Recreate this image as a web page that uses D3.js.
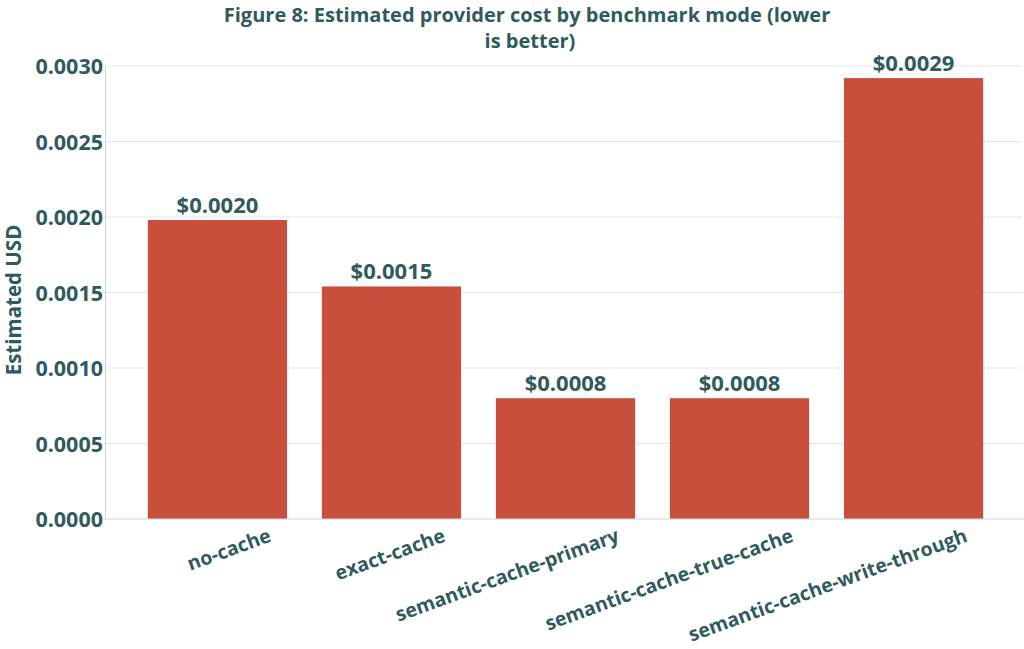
<!DOCTYPE html>
<html>
<head>
<meta charset="utf-8">
<script src="https://cdn.jsdelivr.net/npm/d3@7"></script>
<style>
  body { margin: 0; background: #fff; }
  svg text { font-family: "Open Sans", "Noto Sans", sans-serif; font-weight: 700; fill: #2f5b5d; }
</style>
</head>
<body>
<svg width="1024" height="649"></svg>
<script>
// data
const modes = ["no-cache", "exact-cache", "semantic-cache-primary", "semantic-cache-true-cache", "semantic-cache-write-through"];
const costs = [0.00198, 0.00154, 0.00080, 0.00080, 0.00292];
const costLabels = ["$0.0020", "$0.0015", "$0.0008", "$0.0008", "$0.0029"];
const yTicks = [0, 0.0005, 0.001, 0.0015, 0.002, 0.0025, 0.003];

const svg = d3.select("svg");
const plotLeft = 105, plotRight = 1022, plotTop = 66, plotBottom = 519;

// scales
const x = d3.scaleBand()
  .domain(modes)
  .range([113, 1018])
  .padding(0.2);

const y = d3.scaleLinear()
  .domain([0, 0.003])
  .range([plotBottom, plotTop]);

// grid lines
svg.append("g")
  .selectAll("line")
  .data(yTicks.filter(d => d > 0))
  .enter()
  .append("line")
  .attr("x1", plotLeft)
  .attr("x2", plotRight)
  .attr("y1", d => y(d))
  .attr("y2", d => y(d))
  .attr("stroke", "#e3e6e6")
  .attr("stroke-width", 1);

// bars
svg.selectAll("rect")
  .data(modes)
  .enter()
  .append("rect")
  .attr("x", d => x(d))
  .attr("y", (d, i) => y(costs[i]))
  .attr("width", x.bandwidth())
  .attr("height", (d, i) => plotBottom - y(costs[i]))
  .attr("fill", "#c94f3d");

// value labels
svg.append("g")
  .selectAll("text")
  .data(modes)
  .enter()
  .append("text")
  .attr("x", d => x(d) + x.bandwidth() / 2)
  .attr("y", (d, i) => y(costs[i]) - 7)
  .attr("text-anchor", "middle")
  .style("font-size", "22px")
  .text((d, i) => costLabels[i]);

// y axis
const yAxis = d3.axisLeft(y).tickValues(yTicks).tickFormat(d3.format(".4f")).tickSize(0).tickPadding(2);
const gy = svg.append("g")
  .attr("transform", `translate(${plotLeft},0)`)
  .call(yAxis);
gy.select(".domain").attr("stroke", "#c9d8da");
gy.selectAll("text").style("font-size", "21.5px").attr("dy", "0.35em");

// x axis
const xAxis = d3.axisBottom(x).tickSize(0);
const gx = svg.append("g")
  .attr("transform", `translate(0,${plotBottom})`)
  .call(xAxis);
gx.select(".domain").remove();
gx.selectAll("text")
  .style("font-size", "19.5px")
  .attr("text-anchor", "end")
  .attr("y", 0)
  .attr("dy", 0)
  .attr("transform", "translate(55,22) rotate(-20)");

// baseline
svg.append("line")
  .attr("x1", plotLeft)
  .attr("x2", 1024)
  .attr("y1", plotBottom)
  .attr("y2", plotBottom)
  .attr("stroke", "#c9d8da");

// axis title
svg.append("text")
  .attr("transform", "translate(21,300) rotate(-90)")
  .attr("text-anchor", "middle")
  .style("font-size", "20.5px")
  .text("Estimated USD");

// chart title
svg.append("text")
  .attr("x", 527)
  .attr("y", 22)
  .attr("text-anchor", "middle")
  .style("font-size", "20px")
  .text("Figure 8: Estimated provider cost by benchmark mode (lower");
svg.append("text")
  .attr("x", 530)
  .attr("y", 48)
  .attr("text-anchor", "middle")
  .style("font-size", "20px")
  .text("is better)");
</script>
</body>
</html>
